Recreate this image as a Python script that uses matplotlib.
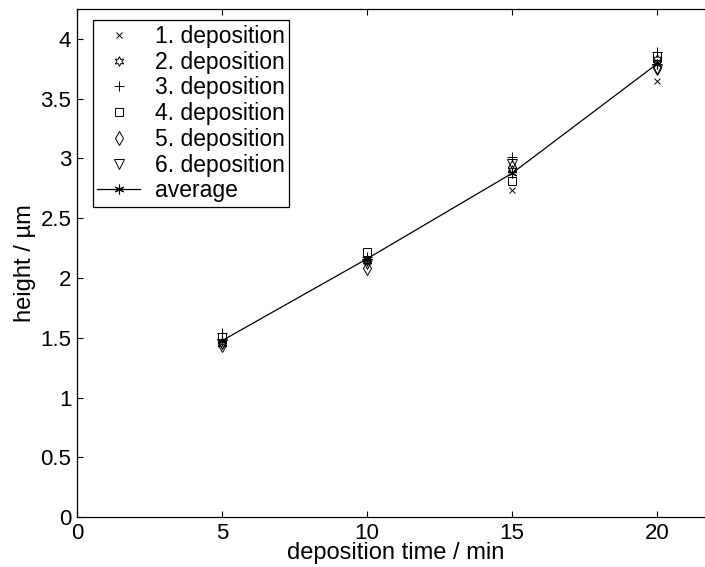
import matplotlib.pyplot as plt

plt.rcParams['font.family'] = ['Liberation Sans', 'DejaVu Sans']

# deposition times (min)
times = [5, 10, 15, 20]

# heights (um) of each deposition
dep1 = [1.46, 2.15, 2.74, 3.65]
dep2 = [1.45, 2.14, 2.90, 3.83]
dep3 = [1.54, 2.18, 3.01, 3.89]
dep4 = [1.51, 2.22, 2.81, 3.86]
dep5 = [1.44, 2.08, 2.93, 3.76]
dep6 = [1.45, 2.12, 2.95, 3.75]
average = [1.475, 2.16, 2.875, 3.79]

labels = ['1. deposition', '2. deposition', '3. deposition',
          '4. deposition', '5. deposition', '6. deposition']
series = [dep1, dep2, dep3, dep4, dep5, dep6]
markers = ['x', (6, 1, 0), '+', 's', 'd', 'v']
sizes = [5, 7, 7, 6, 7, 7]

fig = plt.figure(figsize=(7.05, 5.67), dpi=100)
ax = fig.add_axes([0.109, 0.088, 0.9255, 0.896])

for vals, lab, m, ms in zip(series, labels, markers, sizes):
    ax.plot(times, vals, linestyle='none', marker=m, markersize=ms,
            markerfacecolor='none', markeredgecolor='black',
            markeredgewidth=0.7, color='black', label=lab)

ax.plot(times, average, color='black', linewidth=0.9, marker=(6, 2, 0),
        markersize=7, markeredgewidth=0.8, label='average')

ax.set_xlim(0, 22.5)
ax.set_ylim(0, 4.25)
ax.set_xticks([0, 5, 10, 15, 20])
ax.set_yticks([0, 0.5, 1, 1.5, 2, 2.5, 3, 3.5, 4])
ax.set_yticklabels(['0', '0.5', '1', '1.5', '2', '2.5', '3', '3.5', '4'])
ax.tick_params(direction='in', length=4, width=0.8, labelsize=16,
               top=True, right=False, pad=4)
ax.spines['right'].set_visible(False)
for sp in ax.spines.values():
    sp.set_linewidth(0.9)

ax.set_xlabel('deposition time / min', fontsize=17, labelpad=-1)
ax.xaxis.label.set_x(0.489)
ax.set_ylabel('height / µm', fontsize=17, labelpad=3)

leg = ax.legend(loc='upper left', bbox_to_anchor=(0.0245, 0.978),
                fontsize=16.5, frameon=True, fancybox=False,
                edgecolor='black', framealpha=1, handlelength=1.85,
                borderpad=0.2, labelspacing=0.12, handletextpad=0.65,
                borderaxespad=0)
leg.get_frame().set_linewidth(0.9)

plt.savefig('out.png', dpi=100)
